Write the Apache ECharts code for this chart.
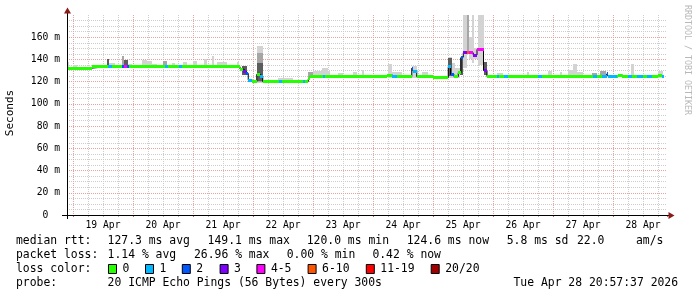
<!DOCTYPE html>
<html><head><meta charset="utf-8">
<script src="https://cdn.jsdelivr.net/npm/echarts@6/dist/echarts.min.js"></script>
<style>html,body{margin:0;padding:0;background:#fff}#c{width:697px;height:297px}</style>
</head><body><div id="c"></div>
<script>
// ---------- data (hours relative to 19 Apr 00:00) ----------
const dayLabels = ['19 Apr','20 Apr','21 Apr','22 Apr','23 Apr','24 Apr','25 Apr','26 Apr','27 Apr','28 Apr'];
const lossLabels = ['0','1','2','3','4-5','6-10','11-19','20/20'];
const lossColors = ['#26ff00','#00b8ff','#0059ff','#7e00ff','#ff00ff','#ff5500','#ff0000','#a00000'];

// median rtt steps (start hour, value in ms, loss class)
const segStart = [-2.4,7.4,14.0,15.6,19.6,20.4,21.4,22.2,36.8,37.8,42.4,43.4,66.8,68.1,69.2,70.1,71.5,73.5,74.8,75.9,
  82.5,83.6,91.9,92.8,94.1,94.8,99.9,100.8,125.5,127.5,129.5,135.5,136.1,137.5,144.1,150.1,151.0,152.4,154.1,155.2,
  156.1,157.5,158.4,160.1,161.6,164.2,165.6,169.5,170.2,172.4,174.1,186.1,187.7,208.1,209.6,211.5,213.5,214.1,217.5,218.1,
  219.5,222.1,223.5,225.5,228.1,229.5,231.5,234.1,235.5];
const segValue = [132.2,133.5,133.5,133.5,133.5,133.5,133.5,133.5,133.5,133.5,133.5,133.5,131.4,129.6,127.5,121.5,120.0,126.6,125.0,120.0,
  120.0,120.0,120.0,120.0,122.5,124.5,124.5,124.5,126.0,124.5,124.5,132.0,129.6,124.5,123.6,133.5,126.5,124.5,128.0,142.0,
  146.0,146.0,146.0,144.0,149.1,130.0,124.5,124.5,124.5,124.5,124.5,124.5,124.5,125.0,124.5,125.0,127.0,125.0,124.5,126.0,
  124.5,124.5,124.5,124.5,124.5,124.5,124.5,126.0,124.6];
const segLoss = [0,0,1,0,2,4,2,0,1,0,1,0,0,3,2,1,0,0,1,0,
  1,0,1,0,0,0,1,0,0,1,0,2,1,0,0,1,2,0,0,2,
  3,5,4,3,4,3,0,1,0,1,0,1,0,1,0,1,2,1,0,0,
  0,1,0,1,0,1,0,0,1];
const dataEnd = 236.2;

// smoke (ping spread): start hour, end hour, low ms, high ms, shade (0 light, 1 mid, 2 dark)
const smokeStart = [-2.4,0,7.6,13.6,14.4,19.6,20.4,22.0,27.6,29.6,31.6,36.0,39.6,44.0,48.0,52.4,55.6,57.6,65.6,67.6,
  73.5,73.5,73.5,82.0,94.0,96.0,99.6,106.0,
  112.0,115.5,126.0,127.6,135.5,139.5,150.1,150.1,151.5,152.8,154.8,155.9,157.7,158.3,159.5,160.4,162.1,164.4,
  169.6,181.5,190.1,194.8,198.1,200.1,201.7,207.5,210.7,223.2,234.1];
const smokeEnd = [-1.6,1.6,8.8,14.4,16.8,20.4,22.0,23.6,29.6,31.6,33.6,37.6,40.8,45.6,49.6,53.6,56.4,61.6,66.4,69.6,
  75.9,75.9,75.9,88.0,96.0,102.8,102.0,108.0,
  113.6,116.4,127.6,131.6,137.6,142.0,151.5,151.5,152.8,154.8,155.9,157.7,158.3,159.5,160.4,162.1,164.4,165.6,
  172.0,182.5,191.5,195.5,200.1,201.7,204.1,209.5,213.3,224.4,236.1];
const smokeLow = [131,132,133,132,132,132,132,132,132,132,132,132,132,132,132,132,132,132,132,126,
  119,120,121,119,123,123,123,123,
  123,123,123,123,123,123,123,125,123,123,126,132,146,140,137,140,135,126,
  123,123,123,123,123,123,123,123,123,123,123];
const smokeHigh = [138,135,135,140,137,143,139.5,136,139.5,138.5,136,138.5,137,137.5,138.6,140,143,137.5,137.5,134.4,
  152,146,137,123,129,130,132,128,
  129,130.5,136,129,134,129,142,141,136.5,132,141,180,180,160,180,150,180,138,
  127.5,129,130,128.5,130.5,135.5,129,127.5,129.6,136,129.6];
const smokeShade = [0,0,0,2,0,1,2,0,0,0,0,1,0,0,0,0,0,0,0,2,
  0,1,2,0,1,0,0,0,
  0,0,0,0,0,0,0,2,0,0,2,0,1,0,0,0,0,2,
  0,0,0,0,0,0,0,1,1,0,0];

// legend texts
const rttStats = ['127.3 ms avg','149.1 ms max','120.0 ms min','124.6 ms now','5.8 ms sd','22.0','am/s'];
const lossStats = ['1.14 % avg','26.96 % max','0.00 % min','0.42 % now'];
const probeText = '20 ICMP Echo Pings (56 Bytes) every 300s';
const stampText = 'Tue Apr 28 20:57:37 2026';

// ---------- layout ----------
const FONT = '"DejaVu Sans Mono", monospace';
const GRID_MINOR = '#cdcdcd';
const GRID_MAJOR = '#e8a2a2';
const shadeColors = ['#d3d3d3','#a6a6a6','#5c5c5c'];
const rttX = [107.6,207.6,306.7,406.7,506.7,577,636];
const lossX = [107.6,194,286.7,372.4];
const boxX = [108,145,181.8,219.6,256.4,307.6,365.8,430.7];
const rowY = [241,255.5,269.5,283];
const LF = '11.4px ' + FONT;

const segData = segStart.map((s, i) => [s, i + 1 < segStart.length ? segStart[i + 1] : dataEnd, segValue[i], segLoss[i]]);
const lineData = segStart.map((s, i) => [s, segValue[i]]).concat([[dataEnd, segValue[segValue.length - 1]]]);
const smokeData = smokeStart.map((s, i) => [s, smokeEnd[i], smokeLow[i], smokeHigh[i], smokeShade[i]]);

const graphic = [];
function txt(x, y, t, extra) {
  graphic.push(Object.assign({type:'text', x:x, y:y, z:20, style:{text:t, font:LF, fill:'#000', verticalAlign:'middle', align:'left'}}, extra || {}));
}
txt(16, rowY[0], 'median rtt:');
rttStats.forEach((t, i) => txt(rttX[i], rowY[0], t));
txt(16, rowY[1], 'packet loss:');
lossStats.forEach((t, i) => txt(lossX[i], rowY[1], t));
txt(16, rowY[2], 'loss color:');
lossLabels.forEach((t, i) => {
  graphic.push({type:'rect', z:20, shape:{x:boxX[i] + 0.5, y:264.5, width:8, height:9}, style:{fill:lossColors[i], stroke:'#000', lineWidth:1}});
  txt(boxX[i] + 14.5, rowY[2], t);
});
txt(16, rowY[3], 'probe:');
txt(107.6, rowY[3], probeText);
txt(513.5, rowY[3], stampText);
// axis title and watermark
graphic.push({type:'text', x:10, y:113, rotation:Math.PI / 2, z:20,
  style:{text:'Seconds', font:'11px ' + FONT, fill:'#000', align:'center', verticalAlign:'middle'}});
graphic.push({type:'text', x:687, y:60, rotation:-Math.PI / 2, z:20,
  style:{text:'RRDTOOL / TOBI OETIKER', font:'8.3px ' + FONT, fill:'#b8b8b8', align:'center', verticalAlign:'middle'}});
// axis lines and arrows
graphic.push({type:'line', z:30, shape:{x1:67.5, y1:219, x2:67.5, y2:12}, style:{stroke:'#000', lineWidth:1}});
graphic.push({type:'line', z:30, shape:{x1:62, y1:215.5, x2:670, y2:215.5}, style:{stroke:'#000', lineWidth:1}});
graphic.push({type:'polygon', z:31, shape:{points:[[64,13.5],[71,13.5],[67.5,7.5]]}, style:{fill:'#8b1a1a'}});
graphic.push({type:'polygon', z:31, shape:{points:[[668.5,212],[668.5,219],[674.5,215.5]]}, style:{fill:'#8b1a1a'}});

function rectItem(api, t0, t1, vHigh, vLow, fill) {
  const a = api.coord([t0, vHigh]), b = api.coord([t1, vLow]);
  const x = Math.round(a[0]), x2 = Math.round(b[0]);
  const y = Math.round(a[1]), y2 = Math.round(b[1]);
  return {type:'rect', shape:{x:x, y:y, width:Math.max(1, x2 - x), height:Math.max(1, y2 - y)}, style:{fill:fill}};
}

const option = {
  animation: false,
  backgroundColor: '#ffffff',
  grid: [
    {left: 67, top: 15, width: 600, height: 200},
    {left: 73, top: 15, width: 594, height: 200}
  ],
  xAxis: [
    {gridIndex:0, type:'value', min:-2.4, max:237.6, axisLine:{show:false}, axisTick:{show:false}, axisLabel:{show:false}, splitLine:{show:false}},
    {gridIndex:1, type:'value', position:'bottom', min:0, max:237.6, interval:6, z:0,
      axisLine:{show:false, onZero:false}, axisTick:{show:true, length:2, lineStyle:{color:'#b0b0b0'}},
      axisLabel:{show:true, margin:5, fontFamily:FONT, fontSize:9.7, color:'#000', showMaxLabel:false,
        formatter: function (v) { const r = Math.round(v); if (Math.abs(v - r) < 1e-6 && r % 24 === 12) { return dayLabels[(r - 12) / 24] || ''; } return ''; }},
      splitLine:{show:true, showMaxLine:false, lineStyle:{color:GRID_MINOR, type:[1, 1], width:1}}},
    {gridIndex:1, type:'value', position:'bottom', min:0, max:237.6, interval:24, z:1,
      axisLine:{show:false, onZero:false}, axisTick:{show:true, length:2, lineStyle:{color:'#d06060'}}, axisLabel:{show:false},
      splitLine:{show:true, showMaxLine:false, lineStyle:{color:GRID_MAJOR, type:[1, 1], width:1}}}
  ],
  yAxis: [
    {gridIndex:0, type:'value', position:'left', min:0, max:180, interval:20, z:1,
      axisLine:{show:false}, axisTick:{show:false},
      axisLabel:{show:true, margin:7, fontFamily:FONT, fontSize:9.7, color:'#000', showMaxLabel:false,
        formatter: function (v) { if (v === 0) return '0  '; if (v >= 180) return ''; return v + ' m'; }},
      splitLine:{show:true, showMinLine:false, showMaxLine:false, lineStyle:{color:GRID_MAJOR, type:[1, 1], width:1}}},
    {gridIndex:0, type:'value', position:'left', min:0, max:180, interval:5, z:0,
      axisLine:{show:false}, axisTick:{show:false}, axisLabel:{show:false},
      splitLine:{show:true, showMinLine:false, showMaxLine:false, lineStyle:{color:GRID_MINOR, type:[1, 1], width:1}}},
    {gridIndex:1, type:'value', min:0, max:180, show:false}
  ],
  series: [
    {type:'custom', name:'smoke', xAxisIndex:0, yAxisIndex:0, z:2, clip:true, silent:true,
      data: smokeData, encode:{x:[0, 1], y:[2, 3]},
      renderItem: function (params, api) {
        return rectItem(api, api.value(0), api.value(1), api.value(3), api.value(2), shadeColors[api.value(4)]);
      }},
    {type:'line', name:'median', xAxisIndex:0, yAxisIndex:0, z:3, step:'end', symbol:'none', silent:true,
      data: lineData, lineStyle:{color:'#000', width:1}},
    {type:'custom', name:'loss', xAxisIndex:0, yAxisIndex:0, z:4, clip:true, silent:true,
      data: segData, encode:{x:[0, 1], y:2},
      renderItem: function (params, api) {
        const t0 = api.value(0), t1 = api.value(1), v = api.value(2);
        const a = api.coord([t0, v]), b = api.coord([t1, v]);
        const x = Math.round(a[0]), x2 = Math.round(b[0]);
        const y = Math.round(a[1] - 1.5);
        return {type:'rect', shape:{x:x, y:y, width:Math.max(1, x2 - x), height:3}, style:{fill:lossColors[api.value(3)]}};
      }}
  ],
  graphic: graphic
};

const chart = echarts.init(document.getElementById('c'), null, {renderer:'canvas', width:697, height:297});
chart.setOption(option);
</script>
</body></html>
